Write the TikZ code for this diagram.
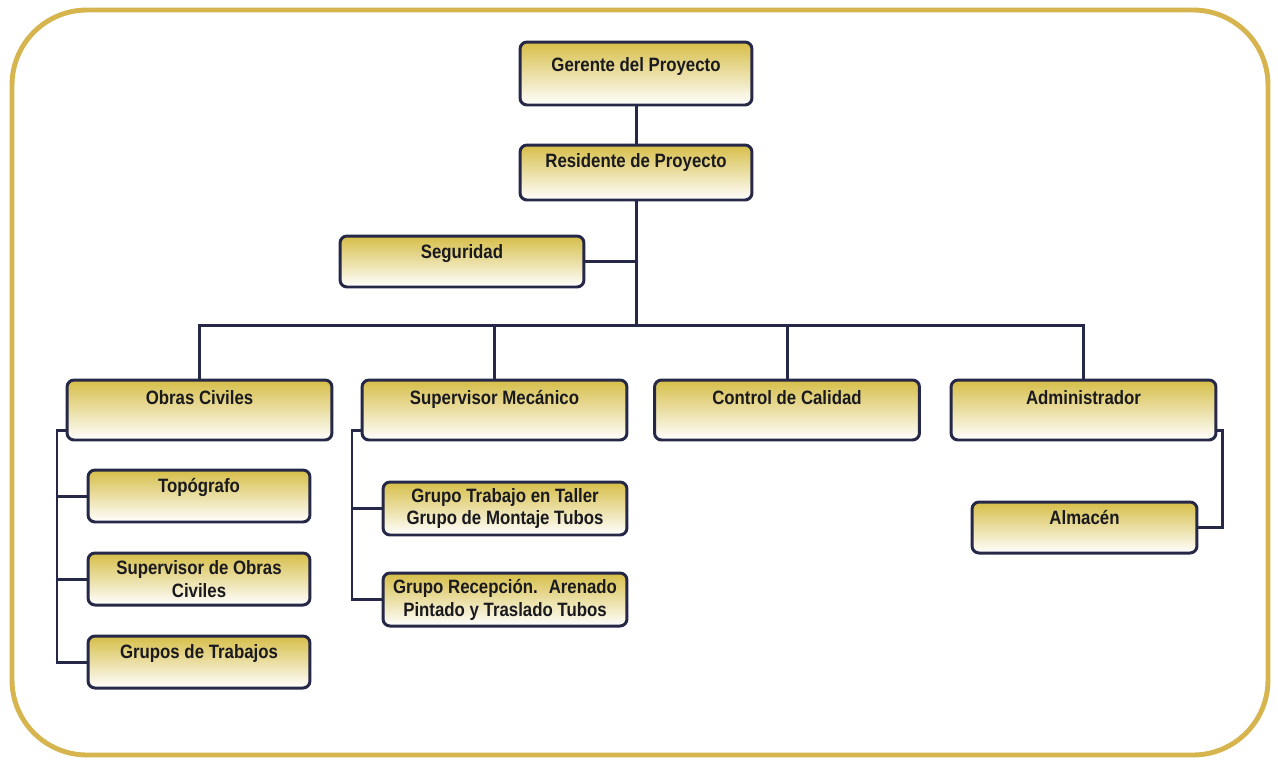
\documentclass[tikz,border=0pt]{standalone}
\usepackage{fontspec}
\setmainfont{Liberation Sans}[FakeStretch = 0.87]
\usepackage{tikz}
\usetikzlibrary{calc}

\definecolor{oro}{RGB}{214, 190, 72}
\definecolor{marcooro}{RGB}{214, 180, 78}
\definecolor{linea}{RGB}{38, 40, 72}
\definecolor{texto}{RGB}{25, 25, 30}

\begin{document}
\begin{tikzpicture}[
    x = 0.02cm, y = -0.02cm,
    font = \fontsize{11}{13}\selectfont\bfseries,
    conector/.style = {draw = linea, line width = 1.7pt},
    cargo/.style = {draw = linea,
      line width = 1.7pt,
      rounded corners = 4pt,
      top color = oro, middle color = white, bottom color = white,
      inner xsep = 1pt, inner ysep = 0pt,
      align = center, text = texto},
    uno/.style n args = {3}{cargo,
      minimum width = #1,
      text height = #2,
      text depth = #3},
    dos/.style 2 args = {cargo,
      minimum width = #1,
      minimum height = #2}
    ]
    \useasboundingbox (0, 0) rectangle (1278, 765);
    \draw [draw = marcooro, line width = 2.8pt, rounded corners = 1.5cm] (12, 10) rectangle (1268, 755);

    \node at (636, 73.5) [uno = {4.64cm}{0.58cm}{0.68cm}, name = ger] {Gerente del Proyecto};
    \node at (636, 172.5) [uno = {4.64cm}{0.44cm}{0.66cm}, name = res] {Residente de Proyecto};
    \node at (462, 261.5) [uno = {4.88cm}{0.44cm}{0.58cm}, name = seg] {Seguridad};

    \node at (199.5, 410) [uno = {5.3cm}{0.48cm}{0.72cm}, name = obras] {Obras Civiles};
    \node at (494.5, 410) [uno = {5.3cm}{0.48cm}{0.72cm}, name = mec] {Supervisor Mecánico};
    \node at (787, 410) [uno = {5.3cm}{0.48cm}{0.72cm}, name = cal] {Control de Calidad};
    \node at (1083.5, 410) [uno = {5.3cm}{0.48cm}{0.72cm}, name = adm] {Administrador};

    \node at (199, 496) [uno = {4.44cm}{0.44cm}{0.6cm}, name = topo] {Topógrafo};
    \node at (199, 579) [dos = {4.44cm}{1.04cm}, name = supobras] {Supervisor de Obras\\Civiles};
    \node at (199, 662) [uno = {4.44cm}{0.44cm}{0.6cm}, name = grupos] {Grupos de Trabajos};

    \node at (505, 508.5) [dos = {4.88cm}{1.06cm}, name = taller] {Grupo Trabajo en Taller\\Grupo de Montaje Tubos};
    \node at (505, 599.5) [dos = {4.88cm}{1.06cm}, name = recep] {Grupo Recepción.~ Arenado\\Pintado y Traslado Tubos};

    \node at (1084.5, 527.5) [uno = {4.5cm}{0.44cm}{0.58cm}, name = alm] {Almacén};

    \coordinate (bus) at (636, 325);
    \coordinate (oc) at (57, 430);
    \coordinate (sm) at (352, 430);
    \coordinate (ad) at (1222, 430);

    \draw [conector] (ger) -- (res);
    \draw [conector] (res) -- (bus);
    \draw [conector] (seg.east) -- (seg.east -| bus);
    \draw [conector] (obras.north) |- (bus) -| (adm.north);
    \draw [conector] (mec.north) -- (mec.north |- bus);
    \draw [conector] (cal.north) -- (cal.north |- bus);

    \draw [conector] (obras.west |- oc) -- (oc) |- (grupos.west);
    \draw [conector] (oc |- topo.west) -- (topo.west);
    \draw [conector] (oc |- supobras.west) -- (supobras.west);

    \draw [conector] (mec.west |- sm) -- (sm) |- (recep.west);
    \draw [conector] (sm |- taller.west) -- (taller.west);

    \draw [conector] (adm.east |- ad) -- (ad) |- (alm.east);

  \end{tikzpicture}
\end{document}
